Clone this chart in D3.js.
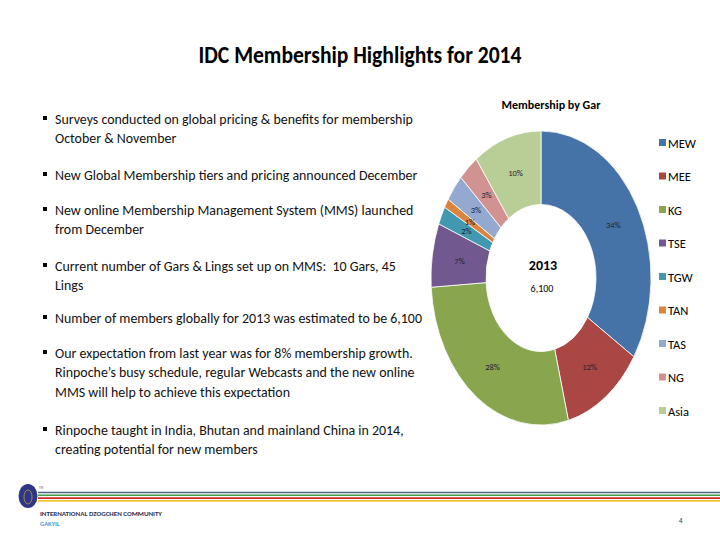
<!DOCTYPE html>
<html><head><meta charset="utf-8">
<script src="https://cdn.jsdelivr.net/npm/d3@7"></script>
<style>
html,body{margin:0;padding:0;background:#fff;}
svg{display:block;font-family:Carlito,Calibri,Lato,"Open Sans",sans-serif;}
svg text{white-space:pre;}
</style></head>
<body>
<svg id="c" width="720" height="540"></svg>
<script>
const categories = ["MEW","MEE","KG","TSE","TGW","TAN","TAS","NG","Asia"];
const shares = [34,12,28,7,2,1,3,3,10];
const colors = ["#4572A7","#AA4643","#89A54E","#71588F","#4198AF","#DB843D","#93A9CF","#D19392","#B9CD96"];
const centerYear = "2013";
const centerTotal = "6,100";
const titleText = "IDC Membership Highlights for 2014";
const chartTitle = "Membership by Gar";
const bullets = [
  ["Surveys conducted on global pricing & benefits for membership","October & November"],
  ["New Global Membership tiers and pricing announced December"],
  ["New online Membership Management System (MMS) launched","from December"],
  ["Current number of Gars & Lings set up on MMS:  10 Gars, 45","Lings"],
  ["Number of members globally for 2013 was estimated to be 6,100"],
  ["Our expectation from last year was for 8% membership growth.","Rinpoche\u2019s busy schedule, regular Webcasts and the new online","MMS will help to achieve this expectation"],
  ["Rinpoche taught in India, Bhutan and mainland China in 2014,","creating potential for new members"]
];
const bulletTops = [124,180,215,271,323,358,435];

const svg = d3.select("#c");

// Title
const title = svg.append("text").attr("x",360).attr("y",63).attr("text-anchor","middle")
  .attr("font-size",24).attr("font-weight","bold").attr("fill","#000").text(titleText);
const tw = title.node().getComputedTextLength();
if (tw > 323) title.attr("textLength",323).attr("lengthAdjust","spacingAndGlyphs");

// Bullets
const bg = svg.append("g");
const tg = bg.append("g");
bullets.forEach((lines,i)=>{
  bg.append("rect").attr("x",43).attr("y",bulletTops[i]-8).attr("width",4).attr("height",4).attr("fill","#000");
  lines.forEach((ln,j)=>{
    tg.append("text").attr("x",55).attr("y",bulletTops[i]+j*19.5)
      .attr("font-size",14.2).attr("fill","#111").text(ln);
  });
});
const w0 = tg.select("text").node().getComputedTextLength();
const kx = 358 / w0;
tg.attr("transform",`translate(55,0) scale(${kx},1) translate(-55,0)`);

// Donut
const cx = 541, cy = 278, rOut = 110, rIn = 55, sy = 147/110;
const pie = d3.pie().sort(null).value(d=>d)(shares);
const arc = d3.arc().innerRadius(rIn).outerRadius(rOut);
const lab = d3.arc().innerRadius((rIn+rOut)/2).outerRadius((rIn+rOut)/2);
const dg = svg.append("g").attr("transform",`translate(${cx},${cy}) scale(1,${sy})`);
dg.selectAll("path").data(pie).join("path")
  .attr("d",arc).attr("fill",(d,i)=>colors[i])
  .attr("stroke","#fff").attr("stroke-width",0.8).attr("vector-effect","non-scaling-stroke");
const lg = svg.append("g").attr("transform",`translate(${cx},${cy})`);
lg.selectAll("text").data(pie).join("text")
  .attr("x",d=>lab.centroid(d)[0]).attr("y",d=>lab.centroid(d)[1]*sy+3)
  .attr("text-anchor","middle").attr("font-size",8.5).attr("fill","#1e2233")
  .text(d=>d.data+"%");

svg.append("text").attr("x",543).attr("y",270).attr("text-anchor","middle")
  .attr("font-size",14).attr("font-weight","bold").attr("fill","#000").text(centerYear);
svg.append("text").attr("x",542).attr("y",292).attr("text-anchor","middle")
  .attr("font-size",10).attr("fill","#000").text(centerTotal);
svg.append("text").attr("x",551).attr("y",109).attr("text-anchor","middle")
  .attr("font-size",12).attr("font-weight","bold").attr("fill","#000").text(chartTitle);

// Legend
const leg = svg.append("g");
categories.forEach((c,i)=>{
  const y = 143 + i*33.5;
  leg.append("rect").attr("x",659).attr("y",y-4).attr("width",7).attr("height",7).attr("fill",colors[i]);
  leg.append("text").attr("x",668).attr("y",y+4.5).attr("font-size",12.5).attr("fill","#000").text(c);
});

// Footer
const fcol = ["#4f6481","#3d9a46","#cc2a2a","#f4c531"];
fcol.forEach((c,i)=>{
  svg.append("line").attr("x1",38).attr("x2",720).attr("y1",492.5+i*2.8).attr("y2",492.5+i*2.8)
    .attr("stroke",c).attr("stroke-width",1.6);
});
svg.append("ellipse").attr("cx",28).attr("cy",496).attr("rx",9.5).attr("ry",12).attr("fill","#2f3784");
svg.append("ellipse").attr("cx",28).attr("cy",497).attr("rx",4).attr("ry",7).attr("fill","none").attr("stroke","#b79a4a").attr("stroke-width",0.8);
svg.append("text").attr("x",39).attr("y",489).attr("font-size",3).attr("fill","#555").text("TM");
svg.append("text").attr("x",40).attr("y",516).attr("font-size",6.5).attr("font-weight","bold").attr("fill","#2a2f55")
  .attr("textLength",122).attr("lengthAdjust","spacingAndGlyphs").text("INTERNATIONAL DZOGCHEN COMMUNITY");
svg.append("text").attr("x",40).attr("y",526).attr("font-size",6.5).attr("font-weight","bold").attr("fill","#3aa0dc").text("GAKYIL");
svg.append("text").attr("x",679).attr("y",523).attr("font-size",7).attr("fill","#333").text("4");
</script>
</body></html>
